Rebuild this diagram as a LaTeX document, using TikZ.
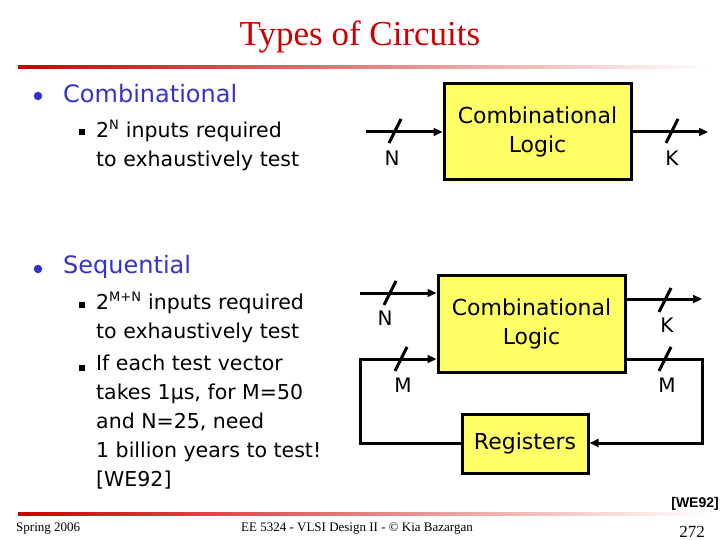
\documentclass[tikz,border=0pt]{standalone}
\usepackage{fontspec}
\setmainfont{Liberation Serif}
\newfontfamily\slidefont{DejaVu Sans}
\newfontfamily\refsfont{Liberation Sans}
\usepackage{tikz}
\usetikzlibrary{positioning, calc, arrows.meta}
\usepackage{xcolor}
\definecolor{TitleRed}{HTML}{CC0000}
\definecolor{BulletBlue}{HTML}{3333CC}
\definecolor{LogicYellow}{HTML}{FFFF66}

\begin{document}
\begin{tikzpicture}[
  x=1pt, y=-1pt,
  node distance=6pt,
  logicbox/.style={rectangle, draw=black, fill=LogicYellow, line width=3pt,
    align=center, font=\slidefont\fontsize{22}{29}\selectfont, inner sep=0pt},
  bus/.style={line width=3pt, -{Triangle[length=9pt,width=8pt]}},
  tick/.style={line width=3pt},
  buslabel/.style={font=\slidefont\fontsize{20}{24}\selectfont, inner sep=0pt},
  topitem/.style={anchor=west, inner sep=0pt, text=BulletBlue,
    font=\slidefont\fontsize{24}{29}\selectfont},
  subitem/.style={anchor=north west, inner sep=0pt, align=left,
    font=\slidefont\fontsize{20.5}{29}\selectfont},
  dot/.style={circle, fill=BulletBlue, inner sep=0pt, minimum size=8.5pt},
  sq/.style={rectangle, fill=black, inner sep=0pt, minimum size=5.5pt}
]
  \useasboundingbox (0,0) rectangle (720,540);

  % title and rules
  \node[text=TitleRed, font=\fontsize{35}{40}\selectfont, inner sep=0pt] (title) at (360,37) {Types of Circuits};
  \shade[left color=TitleRed, right color=white] (18,65.5) rectangle (710,68.5);
  \shade[left color=TitleRed, right color=white] (18,512.5) rectangle (710,515.5);

  % left column
  \node[dot] (b1) at (38,96) {};
  \node[topitem] (comb) at (63,94) {Combinational};
  \node[sq] (s1) at (82,132) {};
  \node[subitem] (s1t) at (96,120) {2\textsuperscript{\fontsize{13}{13}\selectfont N} inputs required\\to exhaustively test};

  \node[dot] (b2) at (38,269) {};
  \node[topitem] (seq) at (63,267) {Sequential};
  \node[sq] (s2) at (82,305) {};
  \node[subitem] (s2t) at (96,292) {2\textsuperscript{\fontsize{13}{13}\selectfont M+N} inputs required\\to exhaustively test};
  \node[sq] (s3) at (82,368) {};
  \node[subitem] (s3t) at (96,355) {If each test vector\\takes 1µs, for M=50\\and N=25, need\\1 billion years to test!\\{[WE92]}};

  % combinational circuit
  \node[logicbox, minimum width=187pt, minimum height=96pt] (cl1) at (537.5,132) {Combinational\\Logic};
  \coordinate (in1) at (366,132);
  \coordinate (out1) at (708,132);
  \draw[bus] (in1) -- (cl1.west);
  \draw[bus] (cl1.east) -- (out1);
  \coordinate (n1) at (395,131);
  \coordinate (k1) at (672,131);
  \draw[tick] ($(n1)+(-6,12)$) -- ($(n1)+(6,-12)$);
  \draw[tick] ($(k1)+(-6,12)$) -- ($(k1)+(6,-12)$);
  \node[buslabel, below=20pt of n1, xshift=-3pt] (n1l) {N};
  \node[buslabel, below=20pt of k1] (k1l) {K};

  % sequential circuit
  \node[logicbox, minimum width=187pt, minimum height=97pt] (cl2) at (531.5,323.5) {Combinational\\Logic};
  \node[logicbox, minimum width=126pt, minimum height=59pt] (reg) at (525,443.5) {Registers};
  \coordinate (in2) at (360,293);
  \coordinate (out2) at (702,299);
  \coordinate (lp1) at (360,443);
  \coordinate (lp2) at (360,359);
  \coordinate (rp1) at (702,359);
  \coordinate (rp2) at (702,443);
  \draw[bus] (in2) -- (in2 -| cl2.west);
  \draw[bus] (cl2.east |- out2) -- (out2);
  \draw[bus] (reg.west |- lp1) -- (lp1) -- (lp2) -- (lp2 -| cl2.west);
  \draw[bus] (cl2.east |- rp1) -- (rp1) -- (rp2) -- (rp2 -| reg.east);
  \coordinate (n2) at (390,293);
  \coordinate (m2) at (401,359);
  \coordinate (k2) at (665,300);
  \coordinate (m3) at (665,359);
  \foreach \t in {n2,m2,k2,m3}
    \draw[tick] ($(\t)+(-6,12)$) -- ($(\t)+(6,-12)$);
  \node[buslabel, below=18pt of n2, xshift=-5pt] (n2l) {N};
  \node[buslabel, below=19pt of m2, xshift=2pt] (m2l) {M};
  \node[buslabel, below=18pt of k2, xshift=2pt] (k2l) {K};
  \node[buslabel, below=19pt of m3, xshift=2pt] (m3l) {M};

  % footer
  \node[anchor=east, inner sep=0pt, font=\refsfont\bfseries\fontsize{14}{16}\selectfont] (ref) at (719,504) {[WE92]};
  \node[anchor=west, inner sep=0pt, font=\fontsize{13}{15}\selectfont] (date) at (16,529) {Spring 2006};
  \node[inner sep=0pt, font=\fontsize{13}{15}\selectfont] (course) at (357,529) {EE 5324 - VLSI Design II - © Kia Bazargan};
  \node[inner sep=0pt, font=\fontsize{17}{19}\selectfont] (page) at (692,532) {272};
\end{tikzpicture}
\end{document}
